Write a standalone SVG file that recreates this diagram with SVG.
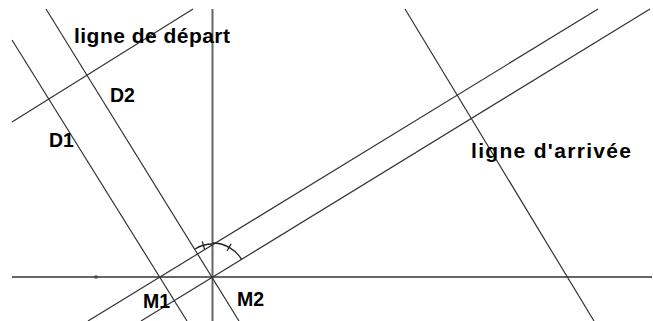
<svg xmlns="http://www.w3.org/2000/svg" width="653" height="321" viewBox="0 0 653 321">
<style>
.ln{stroke:#333;stroke-width:1.2;fill:none}
.ax{stroke:#666;stroke-width:2;fill:none}
.mk{stroke:#222;stroke-width:1.3;fill:none}
.lb{font-family:"Liberation Sans",Arial,sans-serif;font-weight:bold;font-size:19.5px;fill:#000}
.lg{font-size:21px}
</style>
<rect width="653" height="321" fill="#fff"/>
<g id="connectors">
<line id="axe-h" class="ax" x1="12" y1="277" x2="652" y2="277"/>
<line id="axe-v" class="ax" x1="212.5" y1="9" x2="212.5" y2="321"/>
<line id="ligne-depart" class="ln" x1="12" y1="122" x2="193" y2="9"/>
<line id="D1-line" class="ln" x1="12" y1="40" x2="187" y2="321"/>
<line id="D2-line" class="ln" x1="46" y1="9" x2="239" y2="321"/>
<line id="A-line" class="ln" x1="88" y1="321" x2="598" y2="9"/>
<line id="B-line" class="ln" x1="141" y1="321" x2="650" y2="9"/>
<line id="ligne-arrivee" class="ln" x1="405" y1="9" x2="594" y2="321"/>
<path id="arc-right" class="mk" d="M212.5,243 A34,34 0 0 1 241.5,259.3"/>
<line class="mk" x1="227.2" y1="250.8" x2="231.1" y2="243.8"/>
<path id="arc-left" class="mk" d="M212.5,244 A33,33 0 0 0 195,249"/>
<line class="mk" x1="204.5" y1="249.1" x2="202.3" y2="241.4"/>
<rect x="94.5" y="275.5" width="3" height="3" fill="#444"/>
</g>
<g id="label-depart"><text class="lb lg" x="74" y="43" textLength="156" lengthAdjust="spacing">ligne de départ</text></g>
<g id="label-arrivee"><text class="lb lg" x="471" y="157.5" textLength="160" lengthAdjust="spacing">ligne d'arrivée</text></g>
<g id="D1"><text class="lb" x="49" y="146.5">D1</text></g>
<g id="D2"><text class="lb" x="110" y="101.5">D2</text></g>
<g id="M1"><text class="lb" x="143" y="308">M1</text></g>
<g id="M2"><text class="lb" x="237" y="306">M2</text></g>
</svg>
